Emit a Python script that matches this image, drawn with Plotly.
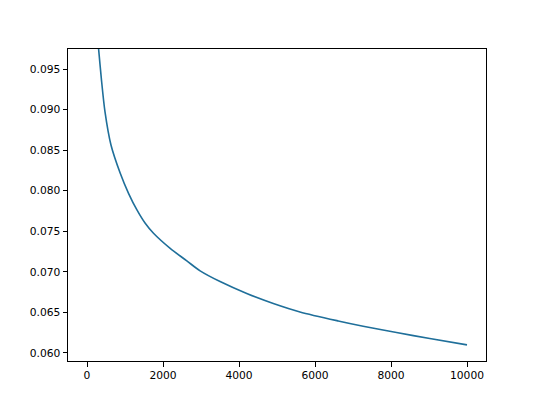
import plotly.graph_objects as go

# Data
steps = [250, 305, 376, 473, 631, 875, 1093, 1314, 1532, 1750, 2189, 2627, 2977,
         3502, 4204, 4903, 5604, 6611, 7267, 8145, 9020, 10000]
values = [0.1003, 0.09749, 0.09388, 0.08975, 0.08564, 0.08215, 0.07968, 0.07763,
          0.07598, 0.07475, 0.07289, 0.07135, 0.07012, 0.06880, 0.06733, 0.06610,
          0.06506, 0.06395, 0.06330, 0.06252, 0.06178, 0.06100]

x_ticks = [0, 2000, 4000, 6000, 8000, 10000]
y_ticks = [0.060, 0.065, 0.070, 0.075, 0.080, 0.085, 0.090, 0.095]

fig = go.Figure()
fig.add_trace(go.Scatter(x=steps, y=values, mode="lines",
                         line=dict(color="#1f6f9a", width=1.6, shape="spline", smoothing=0.8),
                         showlegend=False))

axis_common = dict(showline=True, linecolor="black", linewidth=1, mirror=True,
                   ticks="outside", ticklen=4.5, tickwidth=1, tickcolor="black",
                   showgrid=False, zeroline=False,
                   tickfont=dict(family="DejaVu Sans", size=10.7, color="black"))

fig.update_layout(
    width=540, height=405,
    margin=dict(l=60, r=62, t=41, b=52),
    paper_bgcolor="white", plot_bgcolor="white",
    xaxis=dict(range=[-500, 10500], tickvals=x_ticks,
               ticktext=[str(v) for v in x_ticks], **axis_common),
    yaxis=dict(range=[0.05901, 0.09747], tickvals=y_ticks,
               ticktext=[f"{v:.3f}" for v in y_ticks], **axis_common),
)

fig.write_html("out.html")
